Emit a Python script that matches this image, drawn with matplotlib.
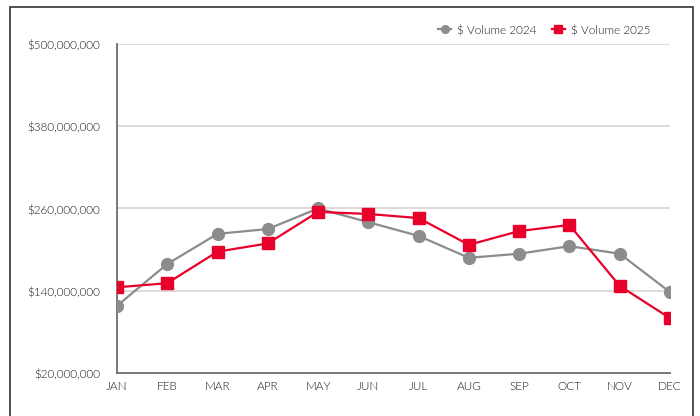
import matplotlib.pyplot as plt
from matplotlib.patches import Rectangle
from matplotlib.ticker import FuncFormatter

plt.rcParams["font.family"] = ["Lato", "DejaVu Sans"]
plt.rcParams["font.weight"] = 300

months = ["JAN", "FEB", "MAR", "APR", "MAY", "JUN",
          "JUL", "AUG", "SEP", "OCT", "NOV", "DEC"]

# values in $ millions
volume_2024 = [118, 179, 223, 230, 260, 240, 220, 188, 194, 205, 194, 138]
volume_2025 = [145, 151, 197, 209, 255, 252, 246, 207, 227, 236, 147, 100]

y_ticks = [20, 140, 260, 380, 500]

GRAY = "#8c8c8c"
RED = "#e8002a"
TEXT = "#1a1a1a"

fig = plt.figure(figsize=(7, 4.16), dpi=100)
ax = fig.add_axes([0.1671, 0.1034, 0.7900, 0.7909])

x = range(len(months))
ax.plot(x, volume_2024, color=GRAY, lw=1.6, marker="o", ms=8.5,
        label="$ Volume 2024", zorder=3)
ax.plot(x, volume_2025, color=RED, lw=1.6, marker="s", ms=8.5,
        label="$ Volume 2025", zorder=4)

ax.set_xlim(0, len(months) - 1)
ax.set_ylim(20, 500)
ax.set_xticks(list(x))
ax.set_xticklabels(months)
ax.set_yticks(y_ticks)
ax.yaxis.set_major_formatter(FuncFormatter(lambda v, p: f"${int(v * 1e6):,}"))

ax.grid(axis="y", color="#d3cfcb", lw=1.1)
ax.set_axisbelow(True)
for side in ["top", "right"]:
    ax.spines[side].set_visible(False)
ax.spines["left"].set_color("#6e6e6e")
ax.spines["bottom"].set_color("#6e6e6e")
ax.spines["left"].set_linewidth(1.3)
ax.spines["bottom"].set_linewidth(1.3)

ax.tick_params(axis="both", length=0, labelsize=8.5, colors=TEXT)
ax.tick_params(axis="y", pad=12)
ax.tick_params(axis="x", pad=6)

for lab in ax.get_xticklabels() + ax.get_yticklabels():
    lab.set_clip_on(False)

ax.legend(loc="lower right", bbox_to_anchor=(0.98, 1.0), ncol=2, frameon=False,
          fontsize=8.5, handlelength=1.1, columnspacing=1.3,
          handletextpad=0.5, markerscale=0.65, labelcolor=TEXT,
          borderaxespad=0.35)

# frame around the whole chart
fig.patches.append(Rectangle((10 / 700, -0.05), 683 / 700, 1 - 7 / 416 + 0.05,
                             transform=fig.transFigure, fill=False,
                             edgecolor="#333333", lw=1.2))

fig.savefig("out.png", dpi=100)
